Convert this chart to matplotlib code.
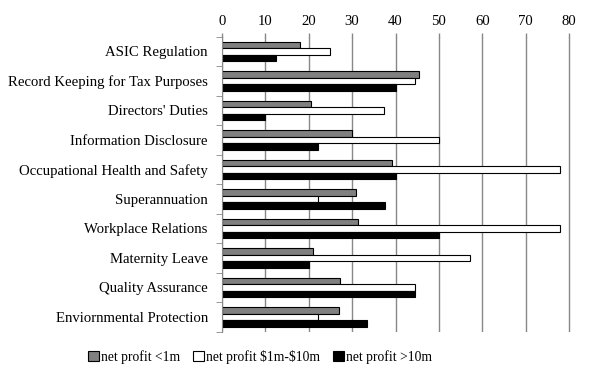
import numpy as np
import matplotlib.pyplot as plt

categories = ['ASIC Regulation', 'Record Keeping for Tax Purposes', "Directors' Duties",
              'Information Disclosure', 'Occupational Health and Safety', 'Superannuation',
              'Workplace Relations', 'Maternity Leave', 'Quality Assurance',
              'Enviornmental Protection']
small = [18.1, 45.5, 20.6, 30.1, 39.3, 31.0, 31.4, 21.1, 27.3, 27.1]
medium = [25.0, 44.6, 37.4, 50.1, 77.9, 22.2, 77.9, 57.2, 44.6, 22.2]
large = [12.4, 40.0, 10.0, 22.1, 40.0, 37.5, 50.0, 20.0, 44.4, 33.4]
series_labels = ['net profit <1m', r'net profit \$1m-\$10m', 'net profit >10m']

plt.rcParams['font.family'] = ['Liberation Serif', 'DejaVu Serif']
plt.rcParams['font.size'] = 10.6

fig = plt.figure(figsize=(5.98, 3.81), dpi=100)
top, bottom = 36.7, 331.7
ax = fig.add_axes([221.7/598, 1-bottom/381, (580-221.7)/598, (bottom-top)/381])

y = np.arange(len(categories))
h = 0.22
ax.barh(y - h, small, height=h, color='#808080', edgecolor='black', linewidth=0.8, label=series_labels[0])
ax.barh(y, medium, height=h, color='white', edgecolor='black', linewidth=0.8, label=series_labels[1])
ax.barh(y + h, large, height=h, color='black', edgecolor='black', linewidth=0.8, label=series_labels[2])

ax.set_xlim(0, 80 * (580-221.7) / (569.3-221.7))
ax.set_ylim(len(categories) - 0.5, -0.5)
ax.set_xticks(range(0, 81, 10))
ax.xaxis.tick_top()
ax.tick_params(axis='x', length=2.6, width=1, color='#888888', pad=4)
ax.set_yticks(y)
ax.set_yticklabels(categories)
ax.set_yticks(np.arange(-0.5, len(categories), 1), minor=True)
ax.tick_params(axis='y', which='major', length=0, pad=10)
ax.tick_params(axis='y', which='minor', length=4, color='#888888')
ax.grid(axis='x', color='#888888', linewidth=1)
ax.set_axisbelow(True)
for s in ['right', 'bottom', 'top']:
    ax.spines[s].set_visible(False)
ax.spines['left'].set_color('#888888')

fig.legend(loc='center', bbox_to_anchor=(260/598, 1-357/381), ncol=3, frameon=False,
           fontsize=9.8, handlelength=0.75, handleheight=0.75, handletextpad=0.15,
           columnspacing=1.0)

fig.savefig('out.png', dpi=100)
